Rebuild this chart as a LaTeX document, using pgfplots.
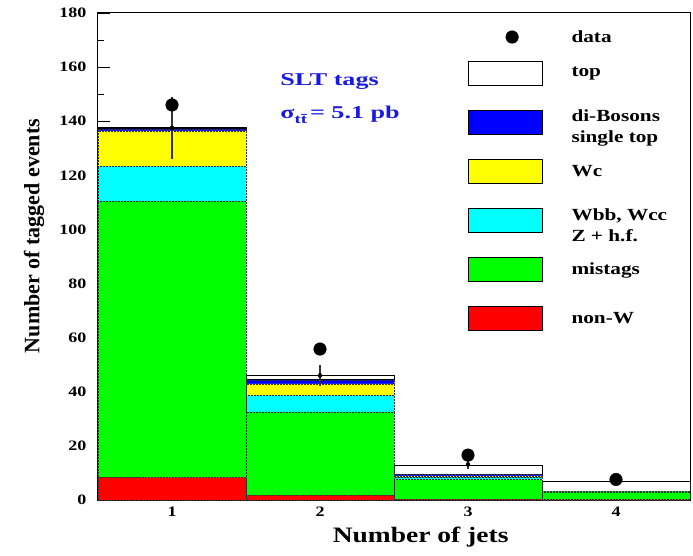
\documentclass[border=0pt]{standalone}
\usepackage{pgfplots}
\pgfplotsset{compat=1.18}
\usepackage{fontspec}
\setmainfont{Liberation Serif}[FakeStretch=1.25]
\newfontfamily\uprightlabel{Liberation Serif}
\newfontfamily\notefont{Liberation Serif}[FakeStretch=1.45]
\definecolor{sltblue}{rgb}{0.1,0.1,0.9}
\definecolor{hred}{rgb}{1,0,0}
\definecolor{hgreen}{rgb}{0,1,0}
\definecolor{hcyan}{rgb}{0,1,1}
\definecolor{hyellow}{rgb}{1,1,0}
\definecolor{hblue}{rgb}{0,0,1}

\newcommand\entry[1]{\parbox[c]{120pt}{#1}}

\pgfplotsset{
  swatch/.style={legend image code/.code={%
    \path[draw=none,fill=none] (0pt,-24.5pt) rectangle (74pt,24.5pt);
    \draw[fill=#1,draw=black,line width=0.8pt,solid] (0pt,-12pt) rectangle (74pt,12pt);}},
  frame/.style={scale only axis, width=592pt, height=487pt,
    xmin=0.5, xmax=4.5, ymin=0, ymax=180, enlargelimits=false,
    at={(0,0)}, anchor=south west},
  bkg/.style={draw=black!80, densely dotted, line width=0.5pt, fill=#1, swatch=#1},
}

\begin{document}
\begin{tikzpicture}
\path[use as bounding box] (-98pt,-55pt) rectangle (595pt,500pt);

% stacked expectation per jet multiplicity
\begin{axis}[frame,
  ybar stacked, bar width=1,
  axis line style={line width=1pt},
  xtick={1,2,3,4}, xtick style={draw=none},
  ytick={0,20,...,180}, minor y tick num=1,
  ytick pos=left, tick align=inside,
  major tick length=12pt, minor tick length=6pt,
  ytick style={line width=0.8pt, black},
  tick label style={font=\fontsize{14.4}{16}\selectfont\bfseries},
  /pgf/number format/assume math mode=true,
  yticklabel style={xshift=-8pt},
  xticklabel style={yshift=-3pt},
  xlabel={Number of jets},
  xlabel style={at={(axis description cs:0.545,-0.076)}, anchor=center,
    font=\fontsize{22}{24}\selectfont\bfseries},
  ylabel={Number of tagged events},
  ylabel style={at={(axis description cs:-0.108,0.542)}, anchor=center,
    font=\uprightlabel\fontsize{22}{24}\selectfont\bfseries},
  legend style={draw=none, fill=none, inner sep=0pt, outer sep=0pt,
    row sep=0pt, column sep=29pt, at={(0.6245,0.9743)}, anchor=north west,
    font=\fontsize{17}{21}\selectfont\bfseries, nodes={inner sep=0pt}},
  legend cell align=left, reverse legend,
]
\addplot[bkg=hred] coordinates {(1,8.4) (2,1.8) (3,0.3) (4,0.1)};
\addlegendentry{\entry{non-W}}
\addplot[bkg=hgreen] coordinates {(1,102.1) (2,30.8) (3,7.3) (4,2.9)};
\addlegendentry{\entry{mistags}}
\addplot[bkg=hcyan] coordinates {(1,12.9) (2,6.1) (3,0.8) (4,0.1)};
\addlegendentry{\entry{Wbb, Wcc\newline Z + h.f.}}
\addplot[bkg=hyellow] coordinates {(1,13.0) (2,4.2) (3,0.5) (4,0.05)};
\addlegendentry{\entry{Wc}}
\addplot[bkg=hblue] coordinates {(1,0.8) (2,1.5) (3,0.5) (4,0.05)};
\addlegendentry{\entry{di-Bosons\newline single top}}
\addplot[fill=white, draw=black, line width=1pt, swatch=white] coordinates {(1,0.4) (2,1.5) (3,3.3) (4,3.6)};
\addlegendentry{\entry{top}}
\addlegendimage{legend image code/.code={%
  \path[draw=none,fill=none] (0pt,-11.5pt) rectangle (74pt,11.5pt);
  \fill[black] (44pt,0pt) circle[radius=6.3pt];}}
\addlegendentry{\entry{data}}
\end{axis}

% observed tags and uncertainty on the expectation
\begin{axis}[frame, hide axis, clip=false]
\addplot[only marks, mark=none, error bars/.cd, y dir=both, y explicit,
  error bar style={line width=1.3pt, black!80}, error mark=none]
  coordinates {(1,137.6) +- (0,11.4) (2,46.05) +- (0,3.85) (3,13.15) +- (0,1.65) (4,6.8) +- (0,0.8)};
\addplot[only marks, mark=*, mark size=6.3pt, black] coordinates {(1,146) (2,55.8) (3,16.6) (4,7.6)};
\node[anchor=base west, text=sltblue, font=\notefont\bfseries\fontsize{18}{20}\selectfont]
  at (rel axis cs:0.302,0.852) {SLT tags};
\node[anchor=base west, text=sltblue, font=\notefont\bfseries\fontsize{18}{20}\selectfont]
  at (rel axis cs:0.302,0.784) {σ\raisebox{-5pt}{\fontsize{13}{13}\selectfont t\={t}}\,= 5.1 pb};
\end{axis}
\end{tikzpicture}
\end{document}
